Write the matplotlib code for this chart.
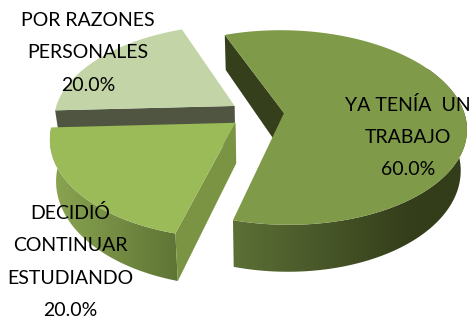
import numpy as np
import matplotlib
matplotlib.use("Agg")
import matplotlib.pyplot as plt
from matplotlib.colors import to_rgb
from matplotlib.patches import Polygon

# data
categories = ["YA TENÍA  UN\nTRABAJO", "DECIDIÓ\nCONTINUAR\nESTUDIANDO", "POR RAZONES\nPERSONALES"]
values = [60.0, 20.0, 20.0]
percent_labels = ["60.0%", "20.0%", "20.0%"]

# style and layout
plt.rcParams["font.family"] = ["Lato", "DejaVu Sans"]
CX, CY, A, B, K = 257.0, 113.7, 180.5, 95.35, 0.149
EXPLODE, DEPTH, START, SHRINK = 0.15, 40.0, 110.7, 0.97
TOP = ["#7f9a48", "#9bbb59", "#c3d5a6"]
CUT = ["#353f1b", "#7a9443", "#4f5541"]
SIDE_STOPS = [(-105.3, "#5c7036"), (-55, "#353f1b"), (30, "#333d19")]
GREEN_STOPS = [(-177.3, "#8aa551"), (-105.3, "#5f7536")]
LABEL_POS = [(408, 137), (70, 261.5), (88, 53)]


def project(th, r, offs, drop=0.0):
    u = offs[0] + r * np.cos(np.radians(th))
    v = offs[1] + r * np.sin(np.radians(th))
    d = 1 + K * v
    x = A * u / d
    if drop:
        x = x * SHRINK
    return CX + x, CY - B * v / d + drop / d


fig = plt.figure(figsize=(4.71, 3.25), dpi=100)
ax = fig.add_axes([0, 0, 1, 1])
ax.axis("off")

# slice angles, clockwise from START
ends = START - np.cumsum([v / sum(values) * 360 for v in values])
starts = np.concatenate([[START], ends[:-1]])
offsets = []
for s, e in zip(starts, ends):
    m = np.radians((s + e) / 2)
    offsets.append((EXPLODE * np.cos(m), EXPLODE * np.sin(m)))

_z = [1.0]


def next_z():
    _z[0] += 1
    return _z[0]


def top_face(i):
    th = np.linspace(starts[i], ends[i], 200)
    xs, ys = project(th, 1.0, offsets[i])
    x0, y0 = project(0.0, 0.0, offsets[i])
    ax.fill(np.r_[x0, xs], np.r_[y0, ys], color=TOP[i], lw=0, zorder=next_z())


def cut_face(i, th):
    o = offsets[i]
    p = [project(th, 0, o), project(th, 1, o), project(th, 1, o, DEPTH), project(th, 0, o, DEPTH)]
    ax.fill([q[0] for q in p], [q[1] for q in p], color=CUT[i], lw=0, zorder=next_z())


def outer_side(i, th0, th1, stops):
    tt = np.linspace(th0, th1, 200)
    x1, y1 = project(tt, 1, offsets[i])
    x2, y2 = project(tt[::-1], 1, offsets[i], DEPTH)
    verts = np.c_[np.r_[x1, x2], np.r_[y1, y2]]
    sx = np.array([project(s[0], 1, offsets[i])[0] for s in stops])
    rgb = np.array([to_rgb(s[1]) for s in stops])
    order = np.argsort(sx)
    x0, x3 = verts[:, 0].min(), verts[:, 0].max()
    y0, y3 = verts[:, 1].min(), verts[:, 1].max()
    xq = np.linspace(x0, x3, 300)
    grad = np.stack([np.interp(xq, sx[order], rgb[order, c]) for c in range(3)], axis=-1)[None, :, :]
    im = ax.imshow(grad, extent=(x0, x3, y3, y0), aspect="auto", interpolation="bilinear", zorder=next_z())
    im.set_clip_path(Polygon(verts, closed=True, transform=ax.transData))


# light slice: its lower cut edge shows below the top face
cut_face(2, starts[2])
top_face(2)

# middle slice
outer_side(1, ends[1], starts[1], GREEN_STOPS)
cut_face(1, starts[1])
top_face(1)

# big slice
cut_face(0, starts[0])
outer_side(0, ends[0], 30, SIDE_STOPS)
top_face(0)

for (x, y), c, p in zip(LABEL_POS, categories, percent_labels):
    ax.text(x, y, c + "\n" + p, ha="center", va="center", ma="center",
            fontsize=14, linespacing=2.1, color="black", zorder=50)

ax.set_xlim(0, 471)
ax.set_ylim(325, 0)
fig.savefig("out.png", dpi=100)
